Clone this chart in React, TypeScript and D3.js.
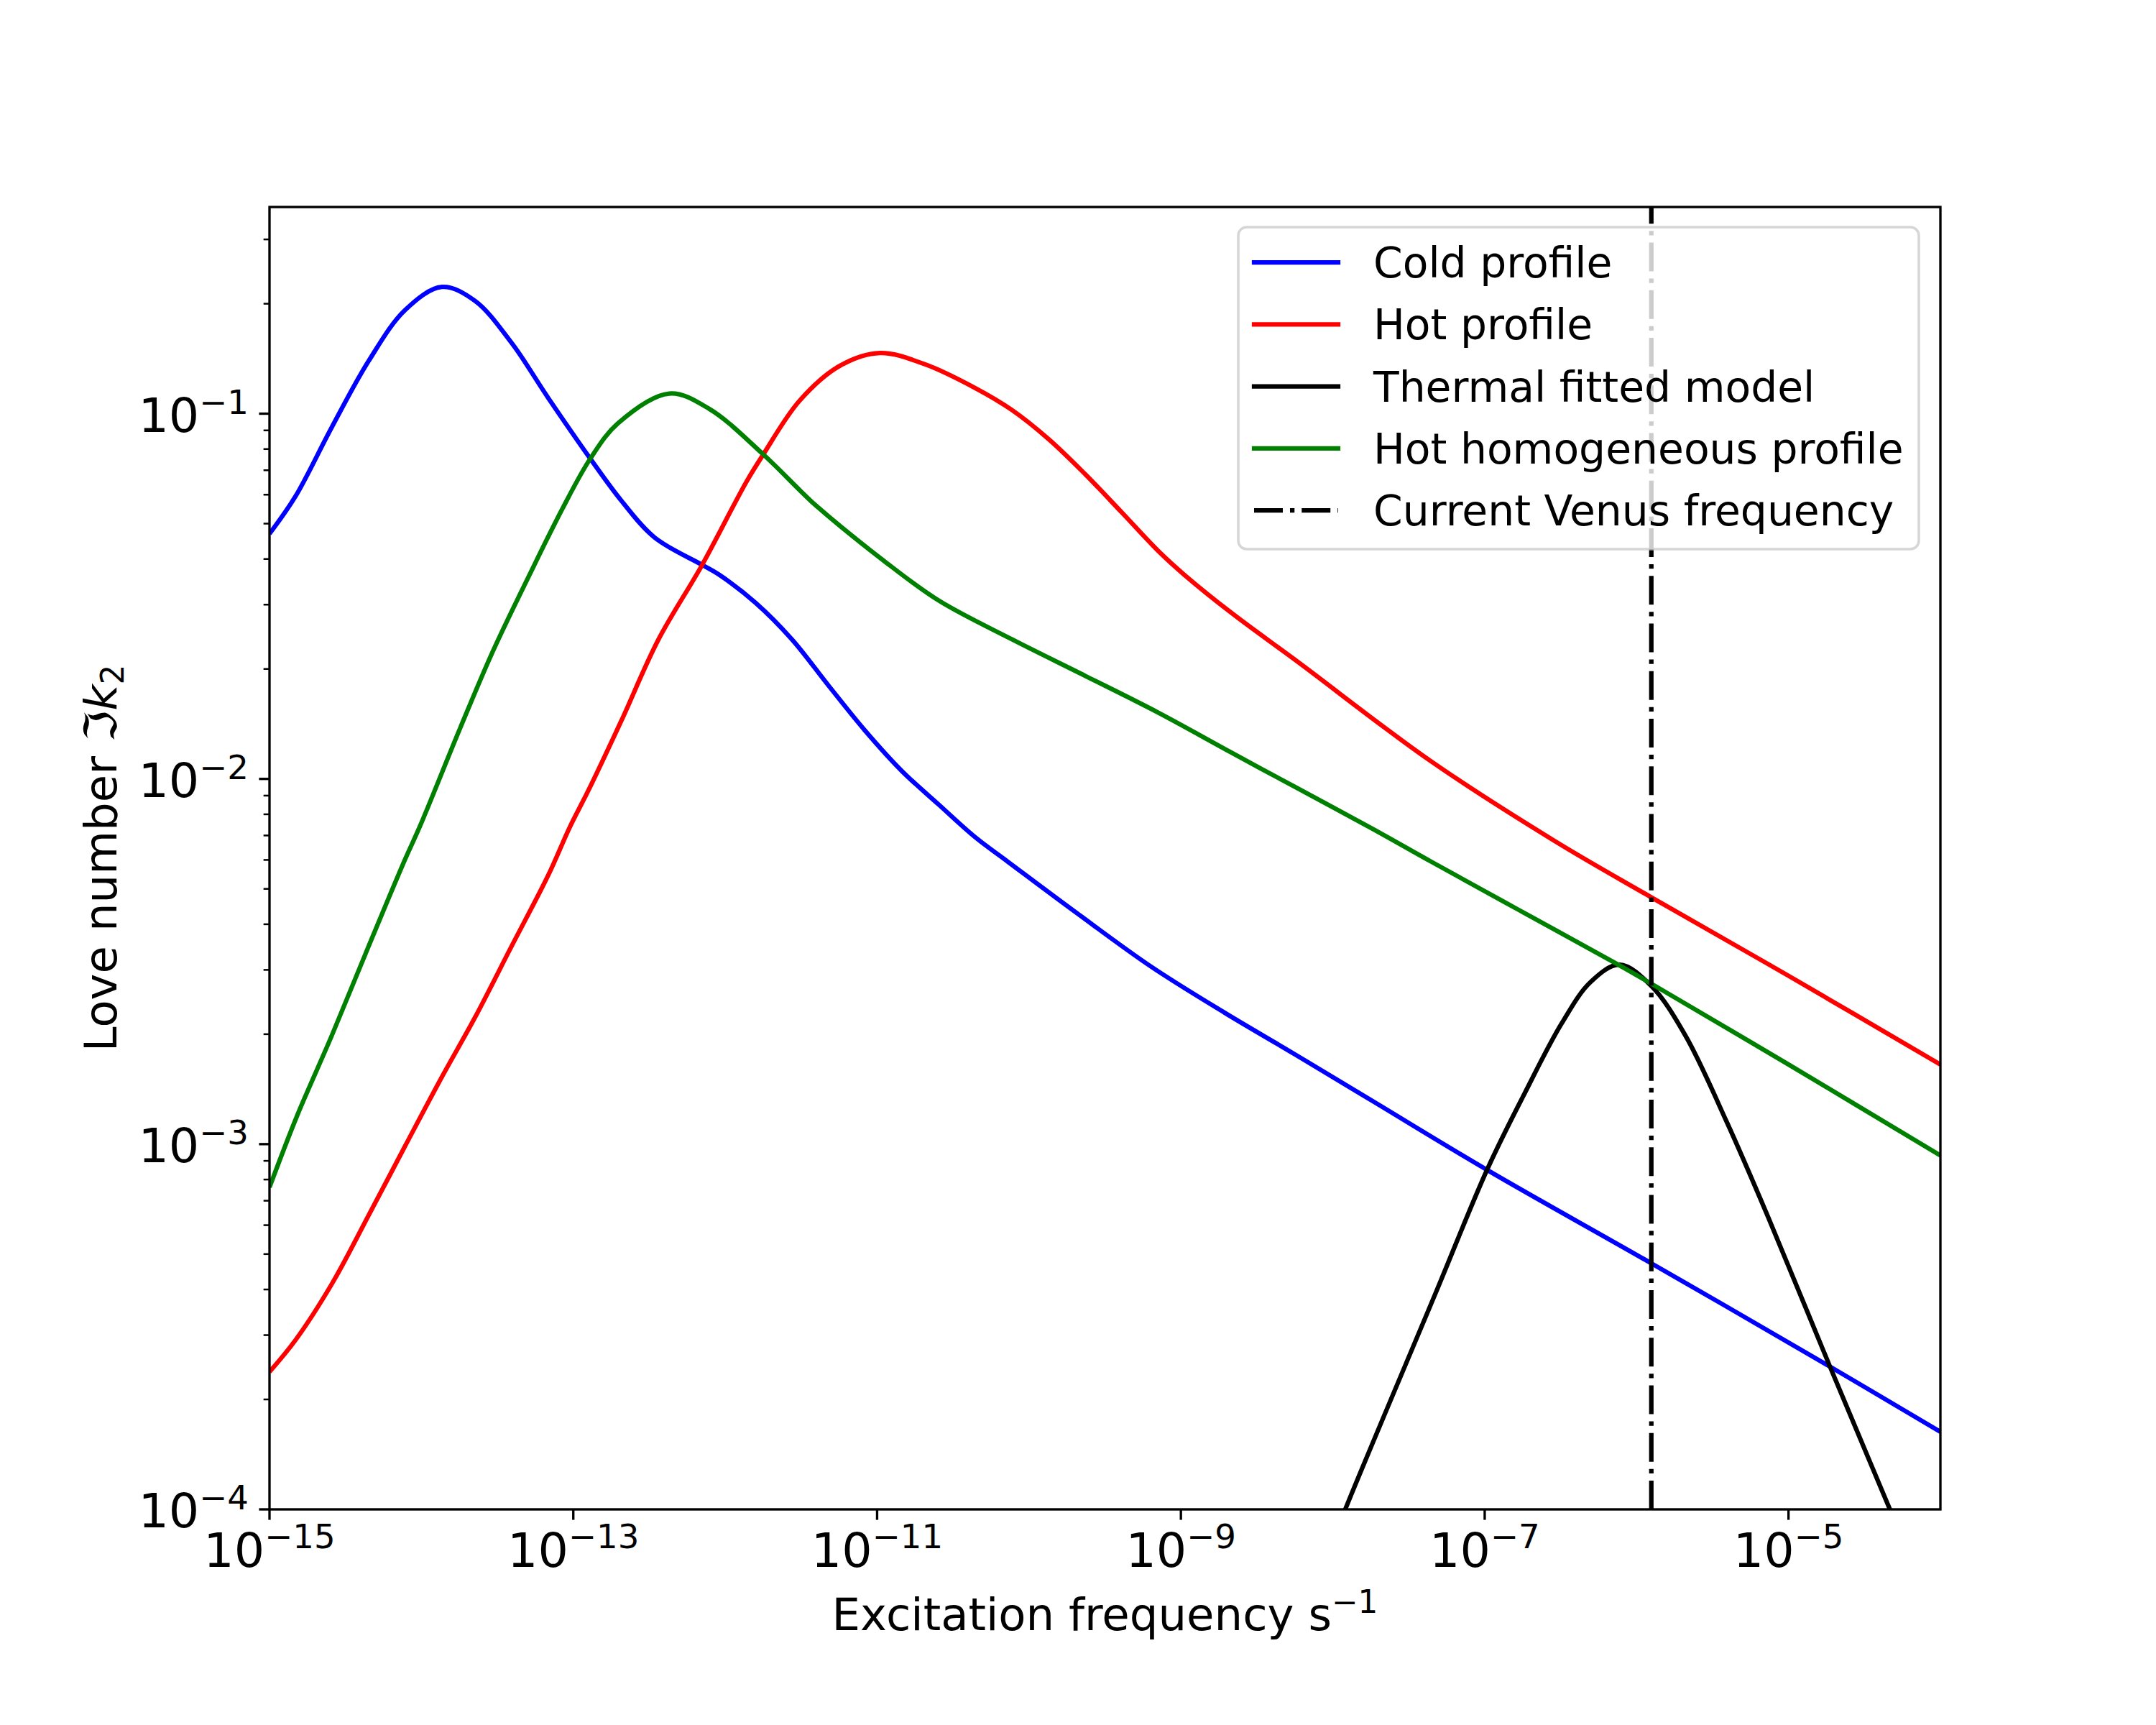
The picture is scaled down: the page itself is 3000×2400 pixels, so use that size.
import React from 'react';
import * as d3 from 'd3';

// ---- Data ----
const coldFreq = [1e-15, 1.476e-15, 2.57e-15, 4.49e-15, 7.82e-15, 1.365e-14, 2.25e-14, 3.92e-14, 6.84e-14, 1.294e-13, 2.07e-13, 3.43e-13, 7.05e-13, 9.06e-13, 1.578e-12, 2.75e-12, 4.8e-12, 8.38e-12, 1.459e-11, 2.54e-11, 4.43e-11, 7.31e-11, 2.1e-10, 6.38e-10, 1.94e-9, 5.52e-9, 1.795e-8, 1.062e-7, 1.225e-6, 1.875e-5, 1e-4];
const coldK2 = [4.69e-2, 5.92e-2, 9.18e-2, 0.1393, 0.1923, 0.2223, 0.2037, 0.1563, 0.1104, 7.53e-2, 5.78e-2, 4.58e-2, 3.855e-2, 3.63e-2, 3.04e-2, 2.41e-2, 1.799e-2, 1.352e-2, 1.05e-2, 8.51e-3, 6.92e-3, 5.92e-3, 4.27e-3, 3.06e-3, 2.29e-3, 1.77e-3, 1.318e-3, 8.45e-4, 4.74e-4, 2.46e-4, 1.63e-4];

const hotFreq = [1e-15, 1.476e-15, 2.57e-15, 4.49e-15, 7.82e-15, 1.365e-14, 2.25e-14, 3.92e-14, 6.84e-14, 9.53e-14, 1.259e-13, 2.07e-13, 3.62e-13, 7.05e-13, 1.374e-12, 1.766e-12, 3.08e-12, 5.68e-12, 1.045e-11, 2.04e-11, 4.43e-11, 7.73e-11, 1.349e-10, 2.35e-10, 4.09e-10, 7.13e-10, 1.054e-9, 2.17e-9, 5.9e-9, 4.37e-8, 2.89e-7, 1.25e-6, 1.0e-5, 1e-4];
const hotK2 = [2.38e-4, 2.9e-4, 4.14e-4, 6.38e-4, 9.89e-4, 1.528e-3, 2.22e-3, 3.48e-3, 5.45e-3, 7.41e-3, 9.31e-3, 1.442e-2, 2.4e-2, 3.855e-2, 6.49e-2, 7.69e-2, 0.1084, 0.1352, 0.1466, 0.1368, 0.1175, 0.1023, 8.51e-2, 6.82e-2, 5.36e-2, 4.2e-2, 3.62e-2, 2.84e-2, 2.09e-2, 1.122e-2, 6.76e-3, 4.74e-3, 2.89e-3, 1.652e-3];

const thermalFreq = [1e-8, 1.208e-8, 4.74e-8, 1.045e-7, 1.832e-7, 3.21e-7, 4.98e-7, 7.73e-7, 1.25e-6, 2.1e-6, 3.93e-6, 7.35e-6, 1.875e-5, 4.65e-5, 5.62e-5];
const thermalK2 = [8.13e-5, 1e-4, 3.9e-4, 8.57e-4, 1.377e-3, 2.14e-3, 2.78e-3, 3.1e-3, 2.71e-3, 1.98e-3, 1.148e-3, 6.31e-4, 2.46e-4, 1e-4, 8.22e-5];

const homFreq = [1e-15, 1.517e-15, 2.57e-15, 4.49e-15, 7.82e-15, 9.77e-15, 1.799e-14, 2.96e-14, 5.18e-14, 8.53e-14, 1.294e-13, 1.963e-13, 4.28e-13, 7.87e-13, 1.766e-12, 3.162e-12, 4.06e-12, 1.104e-11, 2.54e-11, 7.73e-11, 2.35e-10, 7.13e-10, 2.17e-9, 5.52e-9, 1.795e-8, 4.49e-8, 1.656e-7, 7.26e-7, 1.25e-6, 1.0e-5, 1e-4];
const homK2 = [7.62e-4, 1.194e-3, 1.982e-3, 3.48e-3, 6.03e-3, 7.41e-3, 1.377e-2, 2.24e-2, 3.64e-2, 5.52e-2, 7.53e-2, 9.4e-2, 0.1135, 0.103, 7.76e-2, 6.12e-2, 5.55e-2, 3.96e-2, 3.08e-2, 2.41e-2, 1.914e-2, 1.517e-2, 1.178e-2, 9.55e-3, 7.33e-3, 5.92e-3, 4.39e-3, 3.13e-3, 2.75e-3, 1.652e-3, 9.31e-4];

const venusFreq = 1.25e-6;

const xDomain = [1e-15, 1e-4];
const yDomain = [1e-4, 0.368];
const xTickExps = [-15, -13, -11, -9, -7, -5];
const yTickExps = [-4, -3, -2, -1];

const legendLabels = ['Cold profile', 'Hot profile', 'Thermal fitted model', 'Hot homogeneous profile', 'Current Venus frequency'];
const legendColors = ['#0000ff', '#ff0000', '#000000', '#008000', '#000000'];

const FONT = '"DejaVu Sans", sans-serif';

export default function App() {
  const W = 3000, H = 2400;
  const L = 375, R = 2700, T = 288, B = 2100;
  const x = d3.scaleLog().domain(xDomain).range([L, R]);
  const y = d3.scaleLog().domain(yDomain).range([B, T]);

  const line = d3
    .line<[number, number]>()
    .x((d) => x(d[0]))
    .y((d) => y(d[1]))
    .curve(d3.curveCatmullRom.alpha(0.5));

  const series = [
    { f: coldFreq, v: coldK2, color: legendColors[0] },
    { f: hotFreq, v: hotK2, color: legendColors[1] },
    { f: thermalFreq, v: thermalK2, color: legendColors[2] },
    { f: homFreq, v: homK2, color: legendColors[3] },
  ];

  const lw = 6.25;
  const dash = '40 10 6.25 10';
  const tickFs = 66.67;
  const labelFs = 62.5;
  const legFs = 58.33;

  const minorY: number[] = [];
  yTickExps.forEach((e) => {
    for (let m = 2; m <= 9; m++) {
      const v = m * Math.pow(10, e);
      if (v <= yDomain[1]) minorY.push(v);
    }
  });

  const vx = x(venusFreq);

  const legX = 1723, legY = 316, legW = 947, legH = 448;
  const rowY0 = 365, rowDy = 86.25;
  const hx0 = 1745, hx1 = 1862, tx = 1911;

  return (
    <svg
      width={W}
      height={H}
      viewBox={`0 0 ${W} ${H}`}
      style={{ position: 'absolute', left: 0, top: 0, display: 'block' }}
      xmlns="http://www.w3.org/2000/svg"
    >
      <rect x={0} y={0} width={W} height={H} fill="#ffffff" />
      <defs>
        <clipPath id="plotClip">
          <rect x={L} y={T} width={R - L} height={B - T} />
        </clipPath>
      </defs>

      <g clipPath="url(#plotClip)">
        {series.map((s, i) => (
          <path
            key={i}
            d={line(s.f.map((f, j) => [f, s.v[j]] as [number, number])) || ''}
            fill="none"
            stroke={s.color}
            strokeWidth={lw}
            strokeLinejoin="round"
          />
        ))}
        <path
          d={`M${vx},${B}L${vx},${T}`}
          stroke="#000000"
          strokeWidth={lw}
          strokeDasharray={dash}
          fill="none"
        />
      </g>

      {/* y ticks */}
      {yTickExps.map((e) => {
        const yy = y(Math.pow(10, e));
        return (
          <g key={'yt' + e}>
            <line x1={L} x2={L - 14.58} y1={yy} y2={yy} stroke="#000" strokeWidth={3.33} />
            <text
              x={346}
              y={yy + 25}
              textAnchor="end"
              fontFamily={FONT}
              fontSize={tickFs}
              fill="#000"
            >
              <tspan>10</tspan>
              <tspan dy={-25} fontSize={tickFs * 0.7}>{'\u2212' + Math.abs(e)}</tspan>
            </text>
          </g>
        );
      })}
      {minorY.map((v, i) => (
        <line key={'ym' + i} x1={L} x2={L - 8.33} y1={y(v)} y2={y(v)} stroke="#000" strokeWidth={2.5} />
      ))}

      {/* x ticks */}
      {xTickExps.map((e) => {
        const xx = x(Math.pow(10, e));
        return (
          <g key={'xt' + e}>
            <line x1={xx} x2={xx} y1={B} y2={B + 14.58} stroke="#000" strokeWidth={3.33} />
            <text
              x={xx}
              y={2180}
              textAnchor="middle"
              fontFamily={FONT}
              fontSize={tickFs}
              fill="#000"
            >
              <tspan>10</tspan>
              <tspan dy={-26} fontSize={tickFs * 0.7}>{'\u2212' + Math.abs(e)}</tspan>
            </text>
          </g>
        );
      })}

      {/* spines */}
      <rect x={L} y={T} width={R - L} height={B - T} fill="none" stroke="#000" strokeWidth={3.33} strokeLinejoin="miter" />

      {/* axis labels */}
      <text x={(L + R) / 2} y={2268} textAnchor="middle" fontFamily={FONT} fontSize={labelFs} fill="#000">
        <tspan>Excitation frequency s</tspan>
        <tspan dy={-24} fontSize={labelFs * 0.7}>{'\u22121'}</tspan>
      </text>
      <text
        transform={`translate(162,${(T + B) / 2}) rotate(-90)`}
        textAnchor="middle"
        fontFamily={FONT}
        fontSize={labelFs}
        fill="#000"
      >
        <tspan>Love number </tspan>
        <tspan>{'\u2111'}</tspan>
        <tspan fontStyle="italic">k</tspan>
        <tspan dy={10} fontSize={labelFs * 0.7}>2</tspan>
      </text>

      {/* legend */}
      <rect
        x={legX}
        y={legY}
        width={legW}
        height={legH}
        rx={11.7}
        ry={11.7}
        fill="#ffffff"
        fillOpacity={0.8}
        stroke="#cccccc"
        strokeOpacity={0.8}
        strokeWidth={3.5}
      />
      {legendLabels.map((lab, i) => {
        const ry = rowY0 + i * rowDy;
        const isDash = i === 4;
        return (
          <g key={'lg' + i}>
            <line
              x1={hx0}
              x2={hx1}
              y1={ry}
              y2={ry}
              stroke={legendColors[i]}
              strokeWidth={lw}
              strokeDasharray={isDash ? dash : undefined}
              strokeLinecap={isDash ? 'butt' : 'square'}
            />
            <text x={tx} y={ry + 21} fontFamily={FONT} fontSize={legFs} fill="#000">
              {lab}
            </text>
          </g>
        );
      })}
    </svg>
  );
}
